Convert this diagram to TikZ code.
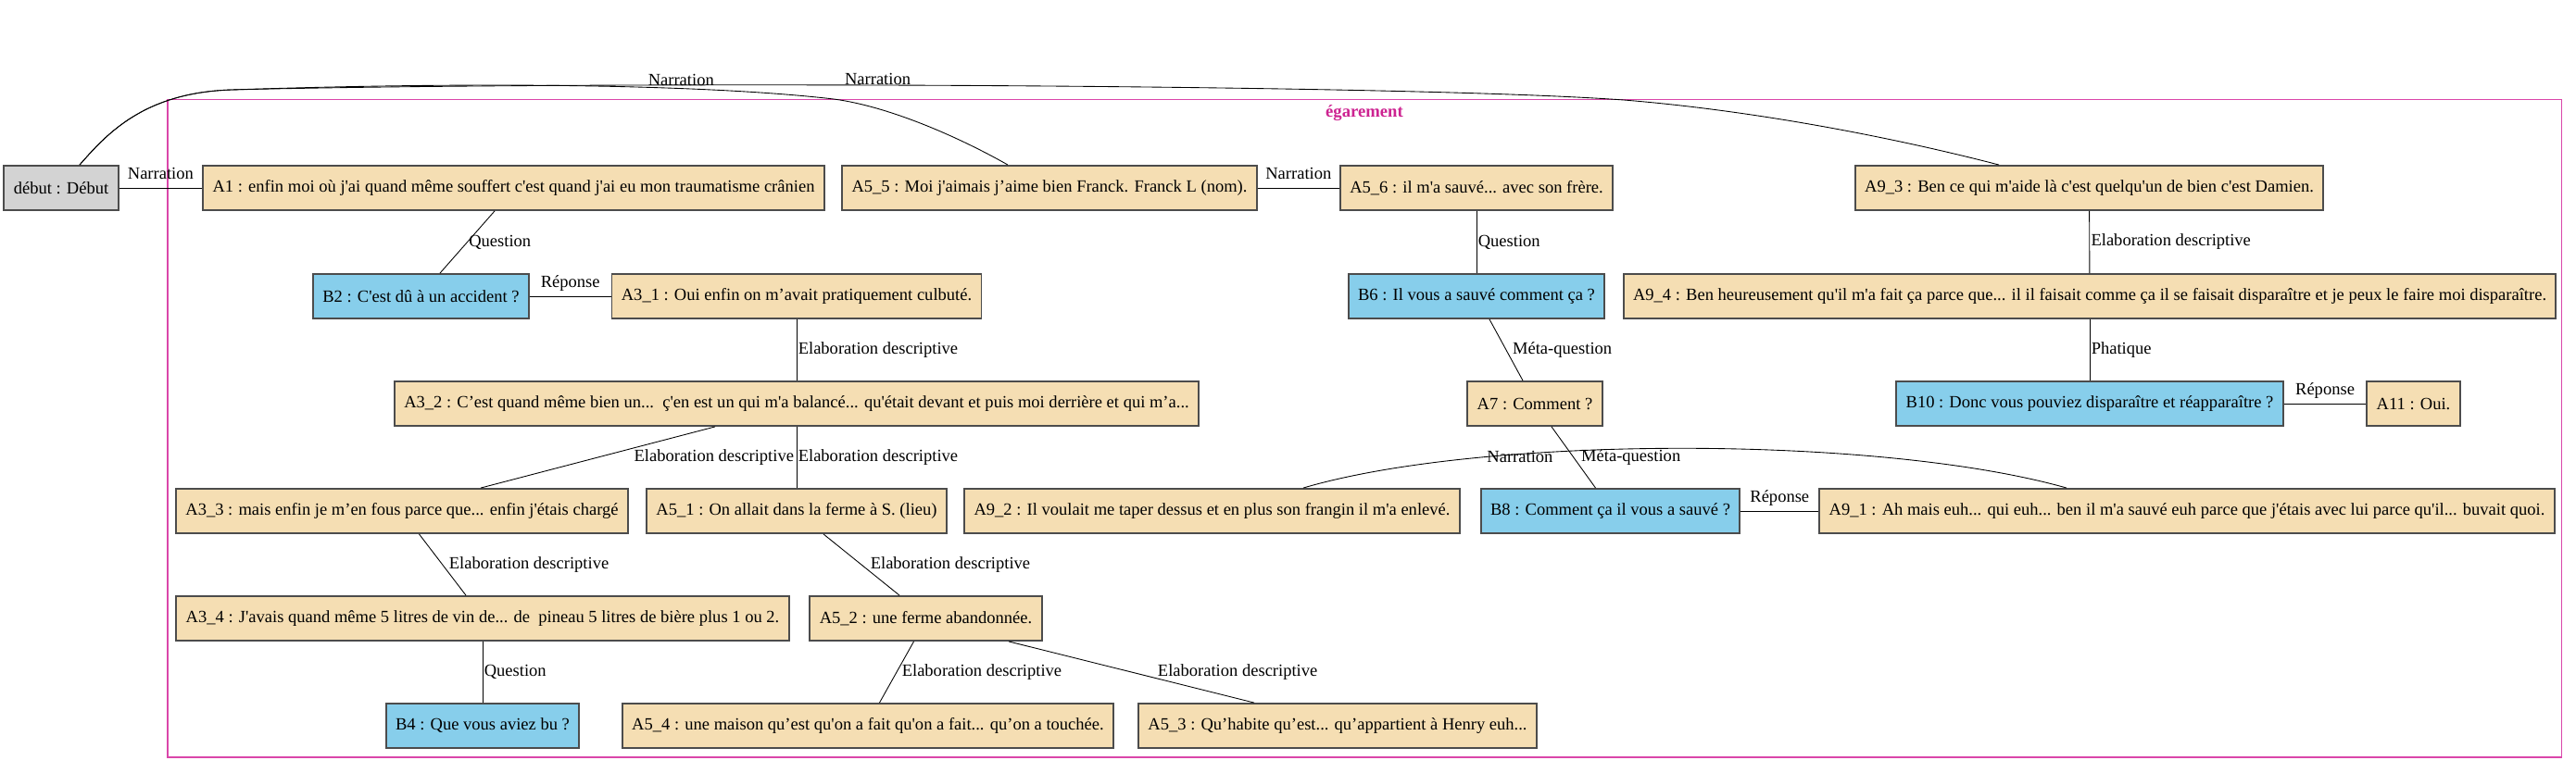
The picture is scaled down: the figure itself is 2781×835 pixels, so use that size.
\documentclass[tikz,border=0pt]{standalone}
\usepackage{fontspec}
\setmainfont{Liberation Serif}[Ligatures=TeXOff]
\usepackage{tikz}
\usetikzlibrary{positioning,calc}
\definecolor{wheatbox}{RGB}{245,222,179}
\definecolor{skybox}{RGB}{135,206,235}
\definecolor{greybox}{RGB}{211,211,211}
\definecolor{clusterpink}{RGB}{218,70,170}
\definecolor{clustertext}{RGB}{205,35,145}

\begin{document}
\begin{tikzpicture}[x=0.75pt, y=-0.75pt,
        every node/.style = {font=\fontsize{13.9}{17}\selectfont},
        seg/.style = {draw=black!70, line width=1.4pt, fill=wheatbox, minimum height=36pt, inner xsep=7.8pt, inner ysep=0pt},
        ques/.style = {seg, fill=skybox},
        debutbox/.style = {seg, fill=greybox},
        link/.style = {line width=0.65pt},
        rel/.style = {inner sep=1pt},
        vlab/.style = {rel, pos=.5, anchor=west},
        hlab/.style = {rel, pos=.5, anchor=base, yshift=7pt}
        ]
        \useasboundingbox (0,0) rectangle (2781,835);
        % cluster
        \draw[clusterpink, line width=0.8pt] (181,107.7) rectangle (2765.6,818);
        \node[text=clustertext, font=\bfseries\fontsize{14}{17}\selectfont, anchor=north] (egarement) at (1473,109) {égarement};
        % row 1
        \node[debutbox] (debut) at (66,203) {début : Début};
        \node[seg] (A1) at (554.5,203) {A1 : enfin moi où j'ai quand même souffert c'est quand j'ai eu mon traumatisme crânien};
        \node[seg] (A55) at (1133,203) {A5\_5 : Moi j'aimais j’aime bien Franck. Franck L (nom).};
        \node[seg] (A56) at (1594,203) {A5\_6 : il m'a sauvé... avec son frère.};
        \node[seg] (A93) at (2255.5,203) {A9\_3 : Ben ce qui m'aide là c'est quelqu'un de bien c'est Damien.};
        % row 2
        \node[ques] (B2) at (454.5,320) {B2 : C'est dû à un accident ?};
        \node[seg] (A31) at (860,320) {A3\_1 : Oui enfin on m’avait pratiquement culbuté.};
        \node[ques] (B6) at (1594,320) {B6 : Il vous a sauvé comment ça ?};
        \node[seg] (A94) at (2256,320) {A9\_4 : Ben heureusement qu'il m'a fait ça parce que... il il faisait comme ça il se faisait disparaître et je peux le faire moi disparaître.};
        % row 3
        \node[seg] (A32) at (860,436) {A3\_2 : C’est quand même bien un...\ \ ç'en est un qui m'a balancé... qu'était devant et puis moi derrière et qui m’a...};
        \node[seg] (A7) at (1657,436) {A7 : Comment ?};
        \node[ques] (B10) at (2256,436) {B10 : Donc vous pouviez disparaître et réapparaître ?};
        \node[seg] (A11) at (2605.5,436) {A11 : Oui.};
        % row 4
        \node[seg] (A33) at (434,552) {A3\_3 : mais enfin je m’en fous parce que... enfin j'étais chargé};
        \node[seg] (A51) at (860,552) {A5\_1 : On allait dans la ferme à S. (lieu)};
        \node[seg] (A92) at (1308.5,552) {A9\_2 : Il voulait me taper dessus et en plus son frangin il m'a enlevé.};
        \node[ques] (B8) at (1738.5,552) {B8 : Comment ça il vous a sauvé ?};
        \node[seg] (A91) at (2361,552) {A9\_1 : Ah mais euh... qui euh... ben il m'a sauvé euh parce que j'étais avec lui parce qu'il... buvait quoi.};
        % row 5
        \node[seg] (A34) at (521,668) {A3\_4 : J'avais quand même 5 litres de vin de... de\ \ pineau 5 litres de bière plus 1 ou 2.};
        \node[seg] (A52) at (999.5,668) {A5\_2 : une ferme abandonnée.};
        % row 6
        \node[ques] (B4) at (521,784) {B4 : Que vous aviez bu ?};
        \node[seg] (A54) at (937,784) {A5\_4 : une maison qu’est qu'on a fait qu'on a fait... qu’on a touchée.};
        \node[seg] (A53) at (1444,784) {A5\_3 : Qu’habite qu’est... qu’appartient à Henry euh...};
        % links
        \draw[link] (debut) -- node[hlab] {Narration} (A1);
        \draw[link] ($(debut.north)+(20,0)$) .. controls (115,145) and (155,100) .. (250,97)
            .. controls (550,87) and (780,93) .. (900,107) node[pos=.65, rel, anchor=base, yshift=2.5pt] {Narration}
            .. controls (960,115) and (1035,148) .. ($(A55.north)+(-45,0)$);
        \draw[link] ($(debut.north)+(20,0)$) .. controls (115,145) and (155,100) .. (250,97)
            .. controls (600,88) and (1500,90) .. (1753,108) node[pos=.45, rel, anchor=base] {Narration}
            .. controls (1900,120) and (2050,150) .. ($(A93.north)+(-97.5,0)$);
        \draw[link] ($(A1.south)+(-20.5,0)$) -- node[vlab] {Question} ($(B2.north)+(20.5,0)$);
        \draw[link] (B2) -- node[hlab] {Réponse} (A31);
        \draw[link] (A31) -- node[vlab] {Elaboration descriptive} (A32);
        \draw[link] ($(A32.south)+(-88,0)$) -- node[vlab, xshift=28pt] {Elaboration descriptive} ($(A33.north)+(85,0)$);
        \draw[link] (A32) -- node[vlab] {Elaboration descriptive} (A51);
        \draw[link] ($(A33.south)+(18.5,0)$) -- node[vlab, xshift=4pt] {Elaboration descriptive} ($(A34.north)+(-18,0)$);
        \draw[link] (A34) -- node[vlab] {Question} (B4);
        \draw[link] ($(A51.south)+(29,0)$) -- node[vlab, xshift=6pt] {Elaboration descriptive} ($(A52.north)+(-28.5,0)$);
        \draw[link] ($(A52.south)+(-13,0)$) -- node[vlab, xshift=3pt] {Elaboration descriptive} ($(A54.north)+(12.5,0)$);
        \draw[link] ($(A52.south)+(89.5,0)$) -- node[vlab, xshift=20pt] {Elaboration descriptive} ($(A53.north)+(-90,0)$);
        \draw[link] (A55) -- node[hlab] {Narration} (A56);
        \draw[link] (A56) -- node[vlab] {Question} (B6);
        \draw[link] ($(B6.south)+(14,0)$) -- node[vlab, xshift=4pt] {Méta-question} ($(A7.north)+(-13,0)$);
        \draw[link] ($(A7.south)+(18,0)$) -- node[vlab, xshift=5pt] {Méta-question} ($(B8.north)+(-16,0)$);
        \draw[link] ($(A92.north)+(98.5,0)$) .. controls (1600,470) and (2030,470) .. ($(A91.north)+(-130,0)$) node[pos=.31, rel, yshift=-2pt] {Narration};
        \draw[link] (B8) -- node[hlab] {Réponse} (A91);
        \draw[link] (A93) -- node[vlab] {Elaboration descriptive} (A94);
        \draw[link] (A94) -- node[vlab] {Phatique} (B10);
        \draw[link] (B10) -- node[hlab] {Réponse} (A11);
\end{tikzpicture}
\end{document}
